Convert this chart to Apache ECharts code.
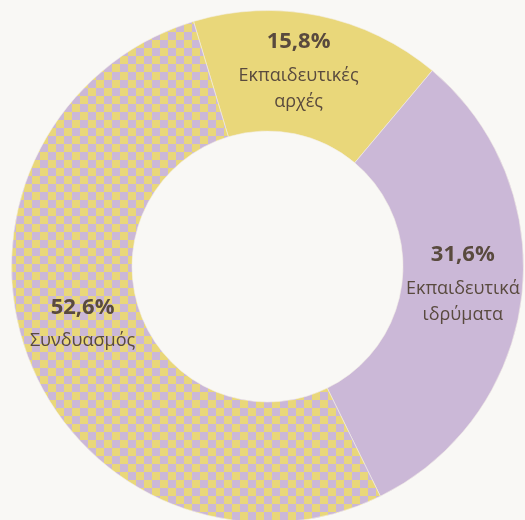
<!DOCTYPE html>
<html>
<head>
<meta charset="UTF-8">
<title>Donut</title>
<script src="https://cdn.jsdelivr.net/npm/echarts@6/dist/echarts.min.js"></script>
<style>
  html, body { margin: 0; padding: 0; background: #f9f8f5; }
  #main { width: 525px; height: 520px; }
</style>
</head>
<body>
<div id="main"></div>
<script>
// data
var categories = ['Εκπαιδευτικές αρχές', 'Εκπαιδευτικά ιδρύματα', 'Συνδυασμός'];
var shares = [15.8, 31.6, 52.6];

var yellow = '#e9d77a';
var purple = '#cbb8d7';

// checker pattern for the combined slice
var tile = document.createElement('canvas');
tile.width = 16; tile.height = 16;
var ctx = tile.getContext('2d');
ctx.fillStyle = purple; ctx.fillRect(0, 0, 16, 16);
ctx.fillStyle = yellow;
ctx.fillRect(0, 0, 8, 8);
ctx.fillRect(8, 8, 8, 8);

var colors = [yellow, purple, { image: tile, repeat: 'repeat' }];
// small nudges so labels sit where the original put them
var labelShift = [[-9, -4], [-2, -10], [0, -19]];

var chart = echarts.init(document.getElementById('main'));
chart.setOption({
  backgroundColor: '#f9f8f5',
  animation: false,
  series: [{
    type: 'pie',
    center: [267.5, 266.5],
    radius: [135.5, 256],
    startAngle: 106.8,
    clockwise: true,
    label: {
      position: 'inside',
      color: '#594a3e',
      fontFamily: 'Open Sans',
      formatter: function (p) {
        var v = p.value.toFixed(1).replace('.', ',') + '%';
        var n = p.name.split(' ').map(function (s) { return '{n|' + s + '}'; }).join('\n');
        return '{p|' + v + '}\n' + n;
      },
      rich: {
        p: { fontSize: 22, fontWeight: 'bold', color: '#594a3e', fontFamily: 'Open Sans', lineHeight: 42 },
        n: { fontSize: 18, color: '#594a3e', fontFamily: 'Open Sans', lineHeight: 26 }
      }
    },
    labelLine: { show: false },
    itemStyle: { borderColor: '#f3efe6', borderWidth: 0.6 },
    emphasis: { disabled: true },
    data: categories.map(function (c, i) {
      return {
        name: c, value: shares[i],
        itemStyle: { color: colors[i] },
        label: { offset: labelShift[i] }
      };
    })
  }]
});
</script>
</body>
</html>
